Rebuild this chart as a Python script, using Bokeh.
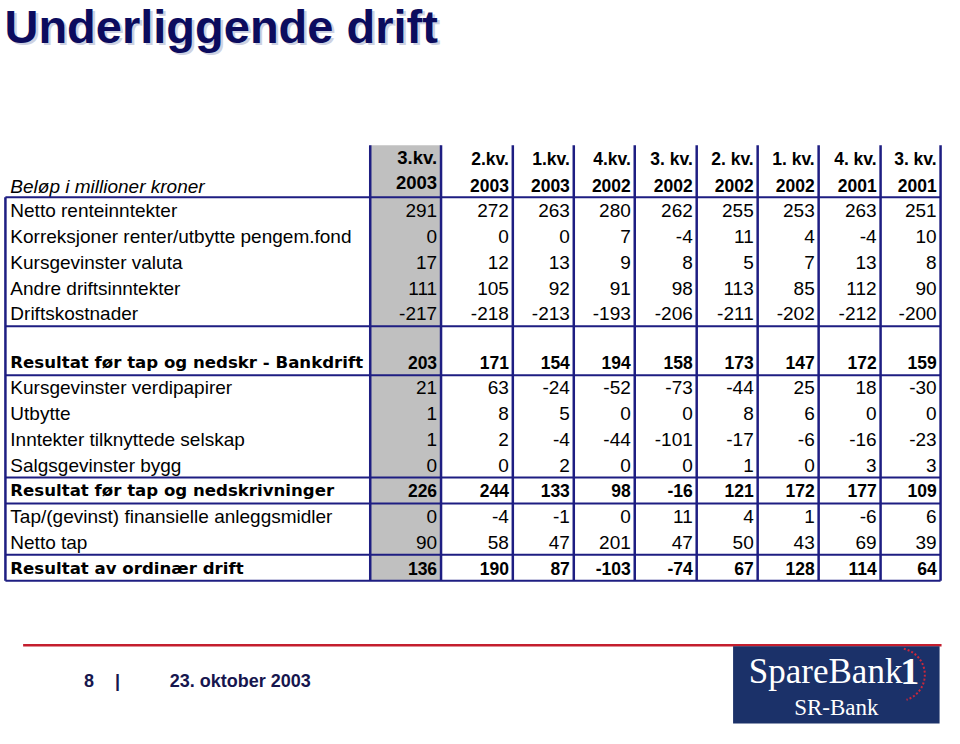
from bokeh.plotting import figure
from bokeh.models import Range1d, ColumnDataSource
from bokeh.core.properties import value
from bokeh.embed import file_html
from bokeh.resources import INLINE
import numpy as np

# ---------------- data ----------------
title = "Underliggende drift"
unit_label = "Beløp i millioner kroner"
quarters = ["3.kv.", "2.kv.", "1.kv.", "4.kv.", "3. kv.", "2. kv.", "1. kv.", "4. kv.", "3. kv."]
years = ["2003", "2003", "2003", "2002", "2002", "2002", "2002", "2001", "2001"]

netto_renteinntekter = [291, 272, 263, 280, 262, 255, 253, 263, 251]
korreksjoner = [0, 0, 0, 7, -4, 11, 4, -4, 10]
kursgevinster_valuta = [17, 12, 13, 9, 8, 5, 7, 13, 8]
andre_driftsinntekter = [111, 105, 92, 91, 98, 113, 85, 112, 90]
driftskostnader = [-217, -218, -213, -193, -206, -211, -202, -212, -200]
resultat_bankdrift = [203, 171, 154, 194, 158, 173, 147, 172, 159]
kursgevinster_verdipapirer = [21, 63, -24, -52, -73, -44, 25, 18, -30]
utbytte = [1, 8, 5, 0, 0, 8, 6, 0, 0]
inntekter_tilknyttede = [1, 2, -4, -44, -101, -17, -6, -16, -23]
salgsgevinster_bygg = [0, 0, 2, 0, 0, 1, 0, 3, 3]
resultat_for_tap = [226, 244, 133, 98, -16, 121, 172, 177, 109]
tap_finansielle = [0, -4, -1, 0, 11, 4, 1, -6, 6]
netto_tap = [90, 58, 47, 201, 47, 50, 43, 69, 39]
resultat_ordinaer = [136, 190, 87, -103, -74, 67, 128, 114, 64]

rows = [
    ("Netto renteinntekter", netto_renteinntekter, False),
    ("Korreksjoner renter/utbytte pengem.fond", korreksjoner, False),
    ("Kursgevinster valuta", kursgevinster_valuta, False),
    ("Andre driftsinntekter", andre_driftsinntekter, False),
    ("Driftskostnader", driftskostnader, False),
    ("Resultat før tap og nedskr - Bankdrift", resultat_bankdrift, True),
    ("Kursgevinster verdipapirer", kursgevinster_verdipapirer, False),
    ("Utbytte", utbytte, False),
    ("Inntekter tilknyttede selskap", inntekter_tilknyttede, False),
    ("Salgsgevinster bygg", salgsgevinster_bygg, False),
    ("Resultat før tap og nedskrivninger", resultat_for_tap, True),
    ("Tap/(gevinst) finansielle anleggsmidler", tap_finansielle, False),
    ("Netto tap", netto_tap, False),
    ("Resultat av ordinær drift", resultat_ordinaer, True),
]
footer_page = "8"
footer_date = "23. oktober 2003"

# ---------------- layout ----------------
NAVY = "#1e1e82"
TITLE_NAVY = "#0c0c5e"
SANS = "Liberation Sans"
BOLDROW = "DejaVu Sans"

col_edges = [5, 376, 448, 521, 583, 645, 708, 770, 832, 895, 956]
pitch = 26.3
row_y = [215 + i * pitch for i in range(5)] + [370] + [396 + i * pitch for i in range(8)]
h_lines = [201, 333, 383, 487.5, 514, 566.5, 593]
top_y, bottom_y = 148, 593

p = figure(width=944, height=728, x_range=Range1d(0, 960), y_range=Range1d(744, 0),
           output_backend="svg", toolbar_location=None, min_border=0)
p.axis.visible = False
p.grid.visible = False
p.outline_line_color = None
p.background_fill_color = "white"
p.border_fill_color = "white"

# grey current-quarter column
p.quad(left=[col_edges[1]], right=[col_edges[2]], top=[top_y], bottom=[bottom_y],
       fill_color="#c0c0c0", line_color=None)

# title with soft shadow
p.text(x=[6.5], y=[29], text=[title], text_font=value(SANS), text_font_style="bold",
       text_font_size="47px", text_color="#cdd1e2", text_baseline="middle")
p.text(x=[4], y=[27], text=[title], text_font=value(SANS), text_font_style="bold",
       text_font_size="47px", text_color=TITLE_NAVY, text_baseline="middle")

# header
p.text(x=[10], y=[190], text=[unit_label], text_font=value(SANS), text_font_style="italic",
       text_font_size="19px", text_color="black", text_baseline="middle")
hx = [e - 4 for e in col_edges[2:]]
p.text(x=hx[:1], y=[160], text=quarters[:1], text_font=value(SANS), text_font_style="bold",
       text_font_size="18.5px", text_align="right", text_baseline="middle", text_color="black")
p.text(x=hx[:1], y=[186], text=years[:1], text_font=value(SANS), text_font_style="bold",
       text_font_size="18.5px", text_align="right", text_baseline="middle", text_color="black")
p.text(x=hx[1:], y=[162] * 8, text=quarters[1:], text_font=value(SANS), text_font_style="bold",
       text_font_size="17.5px", text_align="right", text_baseline="middle", text_color="black")
p.text(x=hx[1:], y=[189] * 8, text=years[1:], text_font=value(SANS), text_font_style="bold",
       text_font_size="17.5px", text_align="right", text_baseline="middle", text_color="black")

# body
norm_lab = dict(x=[], y=[], t=[])
bold_lab = dict(x=[], y=[], t=[])
norm_val = dict(x=[], y=[], t=[])
bold_val = dict(x=[], y=[], t=[])
for (label, vals, bold), y in zip(rows, row_y):
    lab = bold_lab if bold else norm_lab
    val = bold_val if bold else norm_val
    lab["x"].append(10); lab["y"].append(y); lab["t"].append(label)
    for v, x in zip(vals, hx):
        val["x"].append(x); val["y"].append(y); val["t"].append(str(v))

p.text(x="x", y="y", text="t", source=ColumnDataSource(norm_lab), text_font=value(SANS),
       text_font_size="19px", text_baseline="middle", text_color="black")
p.text(x="x", y="y", text="t", source=ColumnDataSource(norm_val), text_font=value(SANS),
       text_font_size="19px", text_baseline="middle", text_align="right", text_color="black")
p.text(x="x", y="y", text="t", source=ColumnDataSource(bold_lab), text_font=value(BOLDROW),
       text_font_style="bold", text_font_size="16.6px", text_baseline="middle", text_color="black")
p.text(x="x", y="y", text="t", source=ColumnDataSource(bold_val), text_font=value(SANS),
       text_font_style="bold", text_font_size="17.5px", text_baseline="middle", text_align="right",
       text_color="black")

# grid lines
p.segment(x0=[col_edges[0]] * len(h_lines), x1=[col_edges[-1]] * len(h_lines), y0=h_lines, y1=h_lines,
          line_color=NAVY, line_width=2)
p.segment(x0=[col_edges[0]], x1=[col_edges[0]], y0=[201], y1=[bottom_y], line_color=NAVY, line_width=2.5)
vx = col_edges[1:]
p.segment(x0=vx, x1=vx, y0=[top_y] * len(vx), y1=[bottom_y] * len(vx), line_color=NAVY, line_width=2.5)

# footer
p.segment(x0=[23], x1=[957], y0=[659], y1=[659], line_color="#c41e2e", line_width=2.5)
p.text(x=[90], y=[695], text=[footer_page], text_font=value(SANS), text_font_style="bold",
       text_font_size="18px", text_align="center", text_baseline="middle", text_color="#16164e")
p.text(x=[119], y=[695], text=["|"], text_font=value(SANS), text_font_style="bold",
       text_font_size="18px", text_align="center", text_baseline="middle", text_color="#16164e")
p.text(x=[172], y=[695], text=[footer_date], text_font=value(SANS), text_font_style="bold",
       text_font_size="18px", text_baseline="middle", text_color="#16164e")

# logo
p.quad(left=[745], right=[955], top=[660], bottom=[739], fill_color="#1b3169", line_color=None)
p.text(x=[761], y=[686], text=["SpareBank"], text_font=value("Liberation Serif"),
       text_font_size="35px", text_baseline="middle", text_color="white")
p.text(x=[915], y=[686], text=["1"], text_font=value("Liberation Serif"), text_font_style="bold",
       text_font_size="38px", text_baseline="middle", text_color="white")
ang = np.linspace(np.radians(-78), np.radians(72), 40)
p.line(x=913 + 27 * np.cos(ang), y=689 + 27 * np.sin(ang), line_color="#c8283c",
       line_width=2, line_dash="2 2")
p.text(x=[850], y=[723], text=["SR-Bank"], text_font=value("Liberation Serif"),
       text_font_size="23px", text_align="center", text_baseline="middle", text_color="white")

open("out.html", "w").write(file_html(p, INLINE))
